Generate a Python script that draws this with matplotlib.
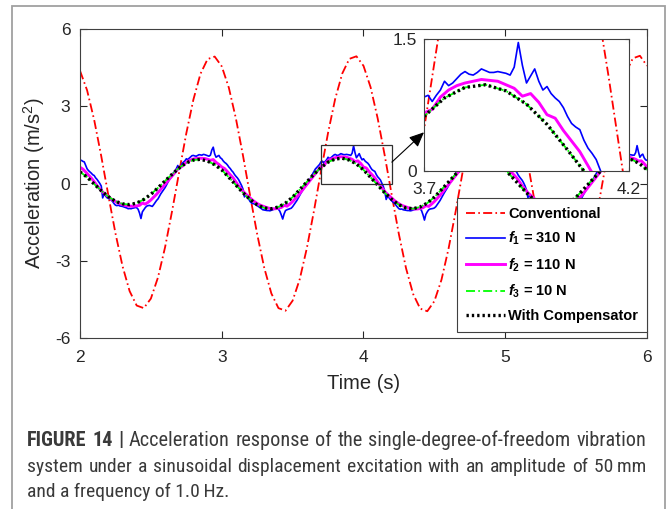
import numpy as np
import matplotlib
matplotlib.use('Agg')
import matplotlib.pyplot as plt
from matplotlib import font_manager
from matplotlib.patches import Rectangle

# ---------------- data ----------------
t_smooth = np.linspace(2, 6, 81)    # 0.05 s sampling
t_f2 = np.linspace(2, 6, 201)       # 0.02 s sampling
t_f1 = np.linspace(2, 6, 401)       # 0.01 s sampling

conventional = [
    4.38, 3.62, 2.47, 1.06, -0.46, -1.93, -3.21, -4.18, -4.74, -4.84,
    -4.47, -3.65, -2.48, -1.06, 0.46, 1.95, 3.26, 4.26, 4.83, 4.93,
    4.55, 3.72, 2.52, 1.08, -0.47, -1.97, -3.28, -4.27, -4.84, -4.94,
    -4.55, -3.72, -2.52, -1.08, 0.47, 1.97, 3.28, 4.27, 4.84, 4.94,
    4.57, 3.74, 2.53, 1.08, -0.47, -1.98, -3.29, -4.29, -4.86, -4.96,
    -4.57, -3.74, -2.53, -1.09, 0.47, 1.98, 3.29, 4.29, 4.86, 4.96,
    4.57, 3.74, 2.53, 1.08, -0.47, -1.98, -3.29, -4.29, -4.86, -4.96,
    -4.57, -3.74, -2.53, -1.09, 0.47, 1.98, 3.29, 4.29, 4.86, 4.96,
    4.57]

f1_310N = [
    0.89, 0.90, 0.86, 0.84, 0.70, 0.57, 0.50, 0.45, 0.40, 0.34,
    0.31, 0.22, 0.16, 0.08, 0.00, -0.10, -0.56, -0.40, -0.48, -0.55,
    -0.58, -0.60, -0.64, -0.70, -0.78, -0.84, -0.86, -0.84, -0.87, -0.88,
    -0.89, -0.91, -0.93, -0.95, -0.98, -0.97, -0.98, -0.96, -0.95, -0.93,
    -0.94, -1.00, -1.15, -1.36, -1.10, -1.02, -0.94, -0.88, -0.86, -0.85,
    -0.87, -0.89, -0.82, -0.74, -0.66, -0.60, -0.50, -0.40, -0.32, -0.24,
    -0.16, -0.06, 0.05, 0.15, 0.24, 0.32, 0.42, 0.48, 0.58, 0.70,
    0.55, 0.62, 0.78, 0.83, 0.88, 0.96, 0.93, 0.98, 1.03, 1.08,
    1.09, 1.07, 1.06, 1.09, 1.12, 1.11, 1.10, 1.13, 1.12, 1.10,
    1.08, 1.06, 1.10, 1.30, 1.41, 1.15, 1.02, 1.06, 1.09, 1.00,
    0.96, 0.88, 0.82, 0.78, 0.72, 0.64, 0.58, 0.50, 0.44, 0.35,
    0.28, 0.22, 0.14, 0.03, -0.08, -0.22, -0.52, -0.45, -0.53, -0.60,
    -0.70, -0.76, -0.78, -0.79, -0.82, -0.86, -0.90, -0.94, -0.98, -1.02,
    -1.03, -1.04, -1.05, -1.05, -1.06, -1.04, -1.02, -1.00, -0.98, -0.99,
    -1.00, -1.08, -1.22, -1.38, -1.18, -1.05, -1.02, -1.00, -0.98, -0.96,
    -0.90, -0.82, -0.74, -0.66, -0.56, -0.46, -0.36, -0.27, -0.18, -0.08,
    0.02, 0.08, 0.14, 0.24, 0.36, 0.46, 0.56, 0.62, 0.68, 0.74,
    0.84, 0.86, 0.79, 0.86, 0.92, 1.02, 0.97, 1.00, 1.05, 1.10,
    1.13, 1.10, 1.09, 1.12, 1.16, 1.14, 1.12, 1.12, 1.13, 1.12,
    1.11, 1.09, 1.18, 1.46, 1.20, 1.00, 1.08, 1.16, 1.02, 0.92,
    0.96, 0.88, 0.83, 0.79, 0.72, 0.62, 0.54, 0.50, 0.47, 0.35,
    0.26, 0.20, 0.13, 0.01, -0.12, -0.30, -0.62, -0.48, -0.55, -0.62,
    -0.68, -0.73, -0.78, -0.85, -0.92, -0.98, -1.00, -0.99, -1.02, -1.03,
    -1.04, -1.05, -1.05, -1.06, -1.05, -1.03, -1.01, -1.00, -0.99, -0.98,
    -0.98, -1.06, -1.22, -1.42, -1.20, -1.10, -1.02, -0.99, -0.98, -0.97,
    -0.95, -0.90, -0.82, -0.74, -0.66, -0.56, -0.46, -0.36, -0.27, -0.18,
    -0.08, 0.02, 0.10, 0.18, 0.28, 0.38, 0.48, 0.58, 0.66, 0.72,
    0.80, 0.84, 0.80, 0.86, 0.94, 1.00, 0.98, 1.02, 1.06, 1.10,
    1.12, 1.10, 1.12, 1.14, 1.15, 1.13, 1.12, 1.12, 1.11, 1.10,
    1.10, 1.12, 1.22, 1.42, 1.18, 1.02, 1.08, 1.12, 1.00, 0.88,
    0.95, 0.87, 0.82, 0.78, 0.71, 0.62, 0.55, 0.49, 0.45, 0.34,
    0.26, 0.19, 0.12, 0.02, -0.10, -0.26, -0.55, -0.46, -0.53, -0.60,
    -0.66, -0.72, -0.76, -0.80, -0.85, -0.89, -0.92, -0.94, -0.97, -1.00,
    -1.02, -1.04, -1.05, -1.04, -1.05, -1.03, -1.02, -1.00, -0.99, -0.98,
    -0.99, -1.07, -1.22, -1.40, -1.18, -1.06, -1.01, -0.98, -0.96, -0.94,
    -0.88, -0.80, -0.72, -0.64, -0.55, -0.45, -0.35, -0.25, -0.16, -0.06,
    0.04, 0.10, 0.16, 0.26, 0.37, 0.47, 0.57, 0.63, 0.69, 0.75,
    0.82, 0.85, 0.80, 0.87, 0.93, 1.01, 0.98, 1.01, 1.06, 1.10,
    1.12, 1.10, 1.10, 1.13, 1.15, 1.14, 1.12, 1.13, 1.12, 1.11,
    1.10, 1.10, 1.20, 1.47, 1.22, 1.02, 1.10, 1.14, 1.00, 0.92,
    0.90]

f2_110N = [
    0.63, 0.56, 0.45, 0.33, 0.21, 0.07, -0.08, -0.21, -0.33, -0.42,
    -0.51, -0.60, -0.67, -0.73, -0.78, -0.82, -0.85, -0.87, -0.88, -0.88,
    -0.87, -0.85, -0.76, -0.80, -0.73, -0.64, -0.53, -0.42, -0.29, -0.16,
    -0.03, 0.10, 0.23, 0.36, 0.49, 0.62, 0.66, 0.78, 0.86, 0.91,
    0.95, 0.97, 0.98, 0.98, 0.97, 0.94, 0.90, 0.93, 0.82, 0.74,
    0.64, 0.58, 0.46, 0.34, 0.22, 0.06, -0.10, -0.24, -0.36, -0.46,
    -0.56, -0.66, -0.74, -0.81, -0.86, -0.90, -0.94, -0.97, -0.98, -0.98,
    -0.96, -0.93, -0.85, -0.88, -0.80, -0.70, -0.58, -0.46, -0.32, -0.18,
    -0.04, 0.10, 0.24, 0.38, 0.52, 0.66, 0.70, 0.84, 0.92, 0.97,
    1.00, 1.02, 1.04, 1.03, 1.02, 0.98, 0.94, 0.85, 0.88, 0.78,
    0.64, 0.60, 0.46, 0.34, 0.22, 0.06, -0.10, -0.24, -0.37, -0.47,
    -0.57, -0.67, -0.75, -0.82, -0.87, -0.91, -0.95, -0.98, -0.99, -0.99,
    -0.97, -0.94, -0.86, -0.89, -0.80, -0.70, -0.58, -0.46, -0.32, -0.18,
    -0.04, 0.10, 0.24, 0.38, 0.52, 0.66, 0.72, 0.84, 0.92, 0.97,
    1.00, 1.02, 1.03, 1.03, 1.01, 0.98, 0.94, 0.86, 0.87, 0.77,
    0.64, 0.59, 0.46, 0.34, 0.22, 0.07, -0.09, -0.23, -0.36, -0.46,
    -0.56, -0.66, -0.74, -0.81, -0.86, -0.90, -0.94, -0.97, -0.98, -0.98,
    -0.96, -0.93, -0.85, -0.88, -0.80, -0.70, -0.58, -0.46, -0.32, -0.18,
    -0.04, 0.10, 0.24, 0.38, 0.52, 0.66, 0.71, 0.84, 0.92, 0.97,
    1.00, 1.02, 1.03, 1.03, 1.01, 0.98, 0.94, 0.87, 0.88, 0.77,
    0.64]

f3_10N = [
    0.45, 0.25, -0.02, -0.28, -0.51, -0.69, -0.79, -0.82, -0.76, -0.62,
    -0.42, -0.17, 0.10, 0.36, 0.61, 0.80, 0.91, 0.94, 0.87, 0.73,
    0.53, 0.24, -0.06, -0.36, -0.62, -0.83, -0.95, -0.98, -0.91, -0.76,
    -0.53, -0.24, 0.06, 0.36, 0.62, 0.83, 0.95, 0.98, 0.91, 0.76,
    0.53, 0.24, -0.06, -0.36, -0.62, -0.83, -0.95, -0.98, -0.91, -0.76,
    -0.53, -0.24, 0.06, 0.36, 0.62, 0.83, 0.95, 0.98, 0.91, 0.76,
    0.53, 0.24, -0.06, -0.36, -0.62, -0.83, -0.95, -0.98, -0.91, -0.76,
    -0.53, -0.24, 0.06, 0.36, 0.62, 0.83, 0.95, 0.98, 0.91, 0.76,
    0.53]

with_compensator = [
    0.45, 0.25, -0.02, -0.28, -0.51, -0.69, -0.79, -0.82, -0.76, -0.62,
    -0.42, -0.17, 0.10, 0.36, 0.61, 0.80, 0.91, 0.94, 0.87, 0.73,
    0.53, 0.24, -0.06, -0.36, -0.62, -0.83, -0.95, -0.98, -0.91, -0.76,
    -0.53, -0.24, 0.06, 0.36, 0.62, 0.83, 0.95, 0.98, 0.91, 0.76,
    0.53, 0.24, -0.06, -0.36, -0.62, -0.83, -0.95, -0.98, -0.91, -0.76,
    -0.53, -0.24, 0.06, 0.36, 0.62, 0.83, 0.95, 0.98, 0.91, 0.76,
    0.53, 0.24, -0.06, -0.36, -0.62, -0.83, -0.95, -0.98, -0.91, -0.76,
    -0.53, -0.24, 0.06, 0.36, 0.62, 0.83, 0.95, 0.98, 0.91, 0.76,
    0.53]

legend_labels = ['Conventional', r'$f_{1}$ = 310 N', r'$f_{2}$ = 110 N',
                 r'$f_{3}$ = 10 N', 'With Compensator']
x_ticks = [2, 3, 4, 5, 6]
y_ticks = [-6, -3, 0, 3, 6]
zoom_xlim = (3.7, 4.2)
zoom_ylim = (0, 1.5)

caption_lines = [
    [('FIGURE', 'bold'), ('14', 'bold'), ('|', 'bold'), ('Acceleration', 'normal'),
     ('response', 'normal'), ('of', 'normal'), ('the', 'normal'),
     ('single-degree-of-freedom', 'normal'), ('vibration', 'normal')],
    'system under a sinusoidal displacement excitation with an amplitude of 50\u2009mm',
    'and a frequency of 1.0\u2009Hz.',
]

# ---------------- style ----------------
plt.rcParams['font.family'] = ['Liberation Sans', 'DejaVu Sans']
plt.rcParams['axes.unicode_minus'] = False
plt.rcParams['mathtext.fontset'] = 'custom'
plt.rcParams['mathtext.it'] = 'Liberation Sans:italic:bold'
plt.rcParams['mathtext.rm'] = 'Liberation Sans:bold'
plt.rcParams['mathtext.bf'] = 'Liberation Sans:bold'

avail = {f.name for f in font_manager.fontManager.ttflist}
cap_family = next((f for f in ['Liberation Sans Narrow', 'Roboto Condensed',
                               'DejaVu Sans Condensed', 'Liberation Sans'] if f in avail),
                  'DejaVu Sans')

W, H = 668, 509
fig = plt.figure(figsize=(W / 100, H / 100), dpi=100)
fig.patch.set_facecolor('white')

ax = fig.add_axes([80 / W, 1 - 338 / H, 567 / W, 309 / H])

styles = [
    dict(color='#ff0000', lw=1.3, dashes=(5, 1.8, 0.9, 1.8)),
    dict(color='#0000ff', lw=1.2, ls='-'),
    dict(color='#ff00ff', lw=2.1, ls='-'),
    dict(color='#00ff00', lw=1.3, dashes=(5, 1.8, 0.9, 1.8)),
    dict(color='#000000', lw=2.4, dashes=(0.7, 0.9)),
]
series = [(t_smooth, conventional), (t_f1, f1_310N), (t_f2, f2_110N),
          (t_smooth, f3_10N), (t_smooth, with_compensator)]

handles = []
for (tt, yy), st, lab in zip(series, styles, legend_labels):
    h, = ax.plot(tt, yy, label=lab, **st)
    handles.append(h)

ax.set_xlim(2, 6)
ax.set_ylim(-6, 6)
ax.set_xticks(x_ticks)
ax.set_yticks(y_ticks)
ax.tick_params(direction='in', top=True, right=True, length=5, width=0.8,
               labelsize=12.5, colors='#262626')
ax.tick_params(axis='x', pad=9)
ax.tick_params(axis='y', pad=7)
for sp in ax.spines.values():
    sp.set_color('#404040')
    sp.set_linewidth(0.8)
ax.set_xlabel('Time (s)', fontsize=14.5, color='#262626', labelpad=6)
ax.set_ylabel('Acceleration (m/s$^{\\mathregular{2}}$)', fontsize=14.5,
              color='#262626', labelpad=6)

ax.add_patch(Rectangle((zoom_xlim[0], zoom_ylim[0]), zoom_xlim[1] - zoom_xlim[0],
                       zoom_ylim[1] - zoom_ylim[0], fill=False, ec='#303030',
                       lw=0.9, zorder=6))

leg = ax.legend(handles=handles, loc='lower right', bbox_to_anchor=(1.0, 0.019),
                borderaxespad=0, frameon=True, fancybox=False, framealpha=1,
                edgecolor='#404040', handlelength=2.65, handletextpad=0.25,
                labelspacing=0.62, borderpad=0.6,
                prop=dict(family='Liberation Sans', weight='bold', size=10.5))
leg.get_frame().set_linewidth(0.8)

# inset
axins = fig.add_axes([424 / W, 1 - 171 / H, 205 / W, 132 / H])
for (tt, yy), st in zip(series, styles):
    axins.plot(tt, yy, **st)
axins.set_xlim(*zoom_xlim)
axins.set_ylim(*zoom_ylim)
axins.set_xticks(list(zoom_xlim))
axins.set_xticklabels(['3.7', '4.2'])
axins.set_yticks(list(zoom_ylim))
axins.set_yticklabels(['0', '1.5'])
axins.tick_params(direction='in', top=True, right=True, length=3, width=0.8,
                  labelsize=12.5, colors='#262626')
axins.tick_params(axis='x', pad=8)
axins.tick_params(axis='y', pad=5)
for sp in axins.spines.values():
    sp.set_color('#404040')
    sp.set_linewidth(0.8)

axins.annotate('', xy=(3.7, 0.44), xycoords=axins.transData,
               xytext=(4.2, 0.83), textcoords=ax.transData,
               arrowprops=dict(arrowstyle='-|>,head_length=0.9,head_width=0.4',
                               color='black', lw=0.8, shrinkA=0, shrinkB=0),
               annotation_clip=False)

# outer frame
fig.add_artist(Rectangle((12 / W, -0.05), (665 - 12) / W, 1 - 6 / H + 0.05,
                         transform=fig.transFigure, fill=False, ec='#a0a0a0',
                         lw=1.3, clip_on=False))

# caption (lines 1-2 justified like the journal text block)
cap_col = '#3a3a3a'
x_left, x_right = 27, 646
baselines = [446.5, 472, 497]
fig.canvas.draw()
renderer = fig.canvas.get_renderer()

def justified(words, y_px, size):
    arts = [fig.text(0, 1 - y_px / H, w, fontsize=size, family=cap_family,
                     weight=wt, color=cap_col, va='baseline', ha='left')
            for w, wt in words]
    widths = [a.get_window_extent(renderer).width for a in arts]
    gap = ((x_right - x_left) - sum(widths)) / (len(arts) - 1)
    x = x_left
    for a, wd in zip(arts, widths):
        a.set_x(x / W)
        x += wd + gap

justified(caption_lines[0], baselines[0], 14.6)
justified([(w, 'normal') for w in caption_lines[1].split(' ')], baselines[1], 14)
fig.text(x_left / W, 1 - baselines[2] / H, caption_lines[2], fontsize=14,
         family=cap_family, color=cap_col, va='baseline', ha='left')

fig.savefig('out.png', dpi=100, facecolor='white')
